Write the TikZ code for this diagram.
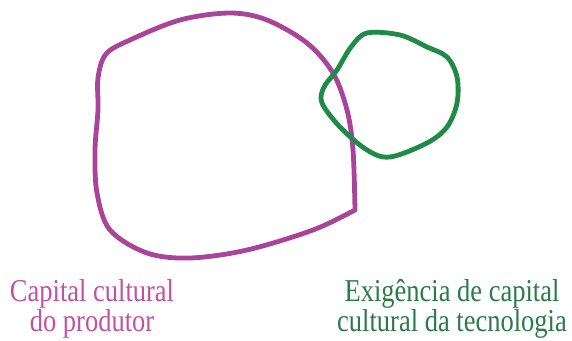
\documentclass[tikz,border=0pt]{standalone}
\usepackage{fontspec}
\setmainfont{Liberation Serif}
\usepackage{xcolor}
\usetikzlibrary{calc,positioning}
\definecolor{ProducerPink}{HTML}{A9449B}
\definecolor{ProducerText}{HTML}{C2519F}
\definecolor{TechGreen}{HTML}{1F8B47}
\definecolor{TechText}{HTML}{2A7A4B}
\tikzset{
    blob/.style={line width=4.8pt, line join=round, line cap=round},
    caption/.style={align=center, yscale=1.2, inner sep=1pt, font=\fontsize{26.5}{20}\selectfont}
}

\begin{document}
\begin{tikzpicture}[x=1pt, y=-1pt]
        \useasboundingbox (0,0) rectangle (572,340);
        % produtor
        \draw[blob, ProducerPink] plot[smooth, tension=0.55] coordinates {
            (355,210) (353,150) (347,110) (333,73) (307,43) (267,20) (230,13)
            (180,20) (130,40) (106,54) (98,78) (98,110) (95,150) (97,193)
            (110,230) (147,253) (190,258) (247,250) (313,230) (355,210)};
        % tecnologia
        \draw[blob, TechGreen] plot[smooth cycle, tension=0.55] coordinates {
            (367,33) (400,35) (427,47) (447,57) (457,77) (457,103) (447,127)
            (427,143) (390,157) (367,150) (340,127) (322,103) (324,87)
            (337,70) (351,47)};

        \node[caption, text=ProducerText] (produtor) at (92,309) {Capital cultural\\do produtor};
        \node[caption, text=TechText] (tecnologia) at (452,309) {Exig\^encia de capital\\cultural da tecnologia};
    \end{tikzpicture}
\end{document}
